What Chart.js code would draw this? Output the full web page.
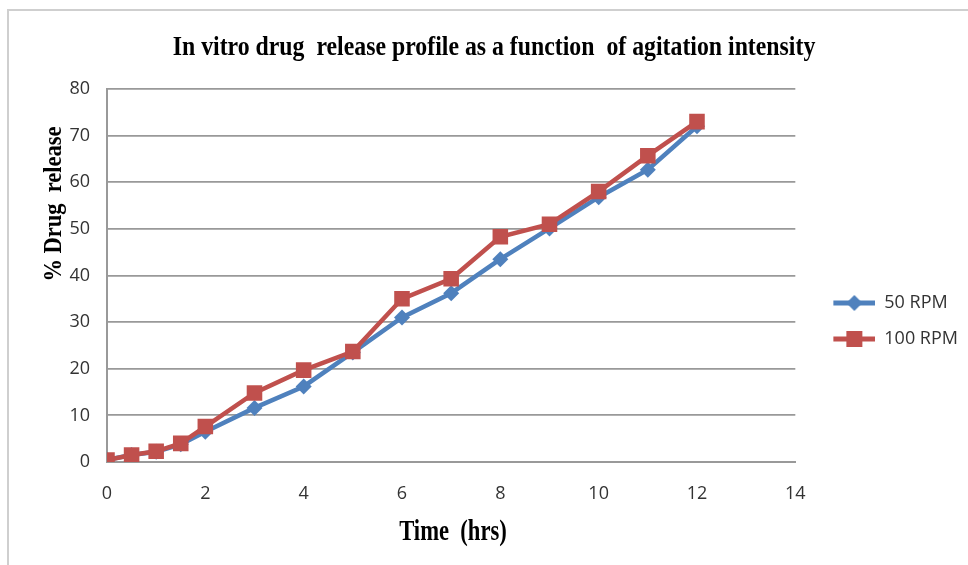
<!DOCTYPE html>
<html>
<head>
<meta charset="utf-8">
<title>In vitro drug release</title>
<script src="https://cdn.jsdelivr.net/npm/chart.js@4.4.1/dist/chart.umd.min.js"></script>
<style>
  html, body { margin: 0; padding: 0; background: #fff; }
  #wrap { width: 968px; height: 565px; position: relative; }
</style>
</head>
<body>
<div id="wrap"><canvas id="release-chart"></canvas></div>
<script>
// sampling times (hrs)
const times = [0, 0.5, 1, 1.5, 2, 3, 4, 5, 6, 7, 8, 9, 10, 11, 12];
// % drug released
const rpm50 = [0.5, 1.5, 2.2, 3.8, 6.5, 11.6, 16.2, 23.5, 31, 36.2, 43.5, 50.1, 56.8, 62.7, 72];
const rpm100 = [0.4, 1.5, 2.3, 4, 7.6, 14.8, 19.7, 23.7, 35, 39.3, 48.3, 51, 58, 65.7, 73];
const seriesNames = ['50 RPM', '100 RPM'];
const seriesColors = ['#4F81BD', '#C0504D'];
const xTicks = [0, 2, 4, 6, 8, 10, 12, 14];
const yTicks = [0, 10, 20, 30, 40, 50, 60, 70, 80];

const chartTitle = 'In vitro drug  release profile as a function  of agitation intensity';
const xTitle = 'Time  (hrs)';
const yTitle = '% Drug  release';

function toPoints(ys) {
    return times.map((t, i) => ({ x: t, y: ys[i] }));
}

// little line + marker swatch for the legend
function legendSwatch(color, style) {
    const c = document.createElement('canvas');
    c.width = 62;
    c.height = 18;
    const g = c.getContext('2d');
    g.strokeStyle = color;
    g.lineWidth = 5;
    g.beginPath();
    g.moveTo(20, 9);
    g.lineTo(62, 9);
    g.stroke();
    g.fillStyle = color;
    g.beginPath();
    if (style === 'diamond') {
        g.moveTo(41, 1); g.lineTo(49, 9); g.lineTo(41, 17); g.lineTo(33, 9);
    } else {
        g.rect(33, 1, 16, 16);
    }
    g.closePath();
    g.fill();
    return c;
}
const swatches = [legendSwatch(seriesColors[0], 'diamond'), legendSwatch(seriesColors[1], 'square')];

// condensed serif titles, drawn straight on the canvas
const serifTitles = {
    id: 'serifTitles',
    afterDraw(chart) {
        const ctx = chart.ctx;
        ctx.save();
        ctx.fillStyle = '#000';
        ctx.textAlign = 'center';
        ctx.textBaseline = 'alphabetic';

        ctx.font = 'bold 28px "Liberation Serif", "Times New Roman", serif';
        ctx.save();
        ctx.translate(494, 55);
        ctx.scale(0.85, 1);
        ctx.fillText(chartTitle, 0, 0);
        ctx.restore();

        ctx.font = 'bold 29px "Liberation Serif", "Times New Roman", serif';
        ctx.save();
        ctx.translate(453, 540);
        ctx.scale(0.78, 1);
        ctx.fillText(xTitle, 0, 0);
        ctx.restore();

        ctx.font = 'bold 25px "Liberation Serif", "Times New Roman", serif';
        ctx.save();
        ctx.translate(61, 204);
        ctx.rotate(-Math.PI / 2);
        ctx.scale(0.9, 1);
        ctx.fillText(yTitle, 0, 0);
        ctx.restore();

        ctx.restore();
    }
};

// light frame round the chart (top and left edges show)
const frame = {
    id: 'frame',
    beforeDraw(chart) {
        const ctx = chart.ctx;
        ctx.save();
        ctx.strokeStyle = '#cfcfcf';
        ctx.lineWidth = 2;
        ctx.strokeRect(8, 10, chart.width + 20, chart.height + 20);
        ctx.restore();
    }
};

const tickFont = { family: '"Open Sans", "Noto Sans", sans-serif', size: 18 };

new Chart(document.getElementById('release-chart'), {
    type: 'line',
    data: {
        datasets: [
            {
                label: seriesNames[0],
                data: toPoints(rpm50),
                borderColor: seriesColors[0],
                backgroundColor: seriesColors[0],
                borderWidth: 4.5,
                pointStyle: 'rectRot',
                pointRadius: 8,
                pointBorderWidth: 0,
                tension: 0,
                order: 1
            },
            {
                label: seriesNames[1],
                data: toPoints(rpm100),
                borderColor: seriesColors[1],
                backgroundColor: seriesColors[1],
                borderWidth: 4.5,
                pointStyle: 'rect',
                pointRadius: 11,
                pointBorderWidth: 0,
                tension: 0,
                order: 0
            }
        ]
    },
    options: {
        responsive: true,
        maintainAspectRatio: false,
        animation: false,
        layout: { padding: { top: 89, right: 0, bottom: 12, left: 0 } },
        scales: {
            x: {
                type: 'linear',
                min: 0,
                max: 14,
                afterBuildTicks: (s) => { s.ticks = xTicks.map(v => ({ value: v })); },
                afterFit: (s) => { s.height = 91; },
                grid: { display: false, drawTicks: false },
                border: { display: true, color: '#999', width: 2 },
                ticks: { font: tickFont, color: '#333', padding: 21, maxRotation: 0 }
            },
            y: {
                min: 0,
                max: 80,
                afterBuildTicks: (s) => { s.ticks = yTicks.map(v => ({ value: v })); },
                afterFit: (s) => { s.width = 107; },
                grid: { color: '#999', lineWidth: 1.8, drawTicks: false },
                border: { display: true, color: '#999', width: 2 },
                ticks: { font: tickFont, color: '#333', padding: 17 }
            }
        },
        plugins: {
            title: { display: false },
            tooltip: { enabled: false },
            legend: {
                position: 'right',
                labels: {
                    usePointStyle: true,
                    pointStyleWidth: 62,
                    padding: 18,
                    color: '#333',
                    font: tickFont,
                    generateLabels: (chart) => chart.data.datasets.map((ds, i) => ({
                        text: ds.label,
                        pointStyle: swatches[i],
                        fillStyle: seriesColors[i],
                        strokeStyle: seriesColors[i],
                        lineWidth: 0,
                        fontColor: '#333',
                        hidden: false,
                        datasetIndex: i
                    }))
                }
            }
        }
    },
    plugins: [frame, serifTitles]
});
</script>
</body>
</html>
